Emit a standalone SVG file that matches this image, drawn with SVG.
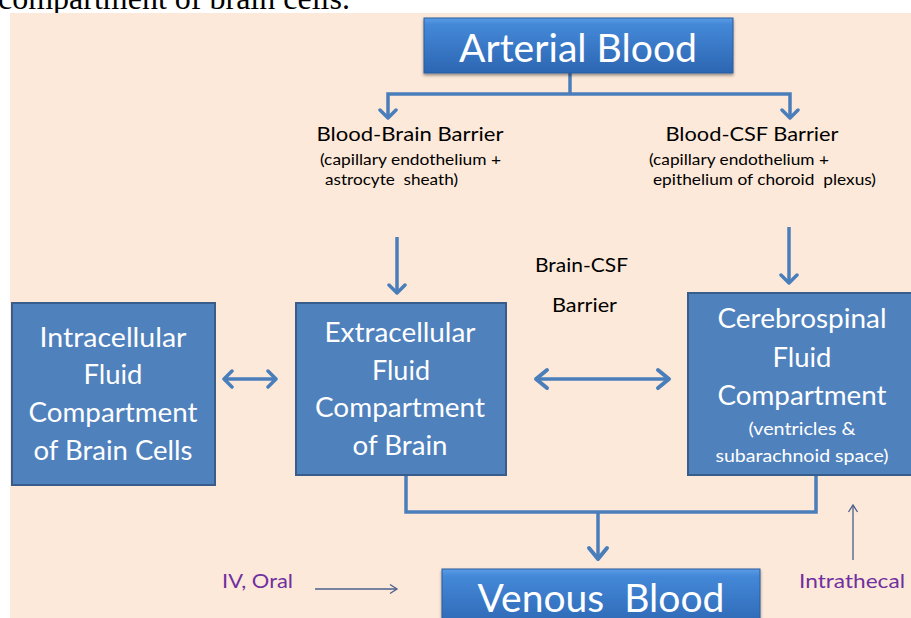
<svg xmlns="http://www.w3.org/2000/svg" width="911" height="618" viewBox="0 0 911 618">
  <style>
    .cap { font-family: "Liberation Serif", serif; font-size: 32px; fill: #000; }
    .box { fill: #4f81bd; stroke: #385d8a; stroke-width: 2; }
    .gbox { fill: url(#blueGrad); stroke: #2c5d9e; stroke-width: 1; filter: url(#shadow); }
    .bt { font-family: "Lato", "Open Sans", sans-serif; font-weight: 400; fill: #fff; text-anchor: middle; }
    .big { font-size: 27px; }
    .huge { font-size: 39px; }
    .small { font-size: 18px; }
    .lbl { font-family: "Lato", "Open Sans", sans-serif; font-weight: 400; fill: #000; font-size: 20px; }
    .sub { font-family: "Lato", "Open Sans", sans-serif; font-weight: 400; fill: #000; font-size: 15px; }
    .pur { font-family: "Lato", "Open Sans", sans-serif; font-weight: 400; fill: #7030a0; font-size: 20px; }
    .conn { fill: none; stroke: #4a7ebb; stroke-width: 3.5; }
    .thin { fill: none; stroke: #4a5f8c; stroke-width: 1.3; }
  </style>
  <defs>
    <linearGradient id="blueGrad" x1="0" y1="0" x2="0" y2="1">
      <stop offset="0" stop-color="#5a9de6"/>
      <stop offset="0.12" stop-color="#4488d8"/>
      <stop offset="1" stop-color="#2c66b2"/>
    </linearGradient>
    <filter id="shadow" x="-5%" y="-10%" width="110%" height="130%">
      <feDropShadow dx="0" dy="2" stdDeviation="1.5" flood-color="#000" flood-opacity="0.4"/>
    </filter>
    <marker id="arr" viewBox="0 0 20 20" refX="17" refY="10" markerWidth="20" markerHeight="20" markerUnits="userSpaceOnUse" orient="auto-start-reverse">
      <path d="M9,2 L17,10 L9,18" fill="none" stroke="#4a7ebb" stroke-width="3.5" stroke-linecap="round" stroke-linejoin="round"/>
    </marker>
    <marker id="arrBig" viewBox="0 0 24 24" refX="21" refY="12" markerWidth="24" markerHeight="24" markerUnits="userSpaceOnUse" orient="auto-start-reverse">
      <path d="M10,3 L21,12 L10,21" fill="none" stroke="#4a7ebb" stroke-width="4" stroke-linecap="round" stroke-linejoin="round"/>
    </marker>
    <marker id="thinArr" viewBox="0 0 12 12" refX="10" refY="6" markerWidth="12" markerHeight="12" markerUnits="userSpaceOnUse" orient="auto-start-reverse">
      <path d="M3,1.5 L10,6 L3,10.5" fill="none" stroke="#4a5f8c" stroke-width="1.3"/>
    </marker>
  </defs>

  <rect x="0" y="0" width="911" height="618" fill="#fff"/>
  <text class="cap" x="-2" y="9">compartment of brain cells.</text>
  <rect x="10" y="13" width="901" height="605" fill="#fde9d9"/>

  <g id="connectors">
    <path class="conn" d="M570,73 V94"/>
    <path class="conn" d="M388,118 V94 H790 V118" marker-start="url(#arr)" marker-end="url(#arr)"/>
    <path class="conn" d="M397,237 V293" marker-end="url(#arr)"/>
    <path class="conn" d="M789,227 V283" marker-end="url(#arr)"/>
    <path class="conn" d="M224,379 H276" marker-start="url(#arr)" marker-end="url(#arr)"/>
    <path class="conn" d="M536,379 H669" marker-start="url(#arrBig)" marker-end="url(#arrBig)"/>
    <path class="conn" d="M406,475 V512 H816 V475"/>
    <path class="conn" d="M598,512 V559" marker-end="url(#arrBig)"/>
    <path class="thin" d="M315,589 H397" marker-end="url(#thinArr)"/>
    <path class="thin" d="M853,560 V505" marker-end="url(#thinArr)"/>
  </g>

  <g id="arterial">
    <rect class="gbox" x="424" y="18" width="309" height="55"/>
    <text class="bt huge" x="578" y="62" textLength="238" lengthAdjust="spacingAndGlyphs">Arterial Blood</text>
  </g>

  <g id="bbb">
    <text class="lbl" x="410" y="141" text-anchor="middle" textLength="187" lengthAdjust="spacingAndGlyphs">Blood-Brain Barrier</text>
    <text class="sub" x="320" y="165" textLength="181" lengthAdjust="spacingAndGlyphs">(capillary endothelium +</text>
    <text class="sub" x="325" y="185" textLength="133" lengthAdjust="spacingAndGlyphs" xml:space="preserve">astrocyte  sheath)</text>
  </g>

  <g id="bcsf">
    <text class="lbl" x="752" y="141" text-anchor="middle" textLength="173" lengthAdjust="spacingAndGlyphs">Blood-CSF Barrier</text>
    <text class="sub" x="649" y="165" textLength="180" lengthAdjust="spacingAndGlyphs">(capillary endothelium +</text>
    <text class="sub" x="653" y="185" textLength="223" lengthAdjust="spacingAndGlyphs" xml:space="preserve">epithelium of choroid  plexus)</text>
  </g>

  <g id="braincsf">
    <text class="lbl" x="535" y="272" textLength="93" lengthAdjust="spacingAndGlyphs">Brain-CSF</text>
    <text class="lbl" x="552" y="312" textLength="65" lengthAdjust="spacingAndGlyphs">Barrier</text>
  </g>

  <g id="intracellular">
    <rect class="box" x="12" y="303" width="203" height="182"/>
    <text class="bt big" x="113" y="347" textLength="147" lengthAdjust="spacingAndGlyphs">Intracellular</text>
    <text class="bt big" x="113" y="384" textLength="59" lengthAdjust="spacingAndGlyphs">Fluid</text>
    <text class="bt big" x="113" y="422" textLength="169" lengthAdjust="spacingAndGlyphs">Compartment</text>
    <text class="bt big" x="113" y="460" textLength="159" lengthAdjust="spacingAndGlyphs">of Brain Cells</text>
  </g>

  <g id="extracellular">
    <rect class="box" x="296" y="303" width="210" height="172"/>
    <text class="bt big" x="400" y="342" textLength="151" lengthAdjust="spacingAndGlyphs">Extracellular</text>
    <text class="bt big" x="401" y="380" textLength="58" lengthAdjust="spacingAndGlyphs">Fluid</text>
    <text class="bt big" x="400" y="417" textLength="170" lengthAdjust="spacingAndGlyphs">Compartment</text>
    <text class="bt big" x="400" y="455" textLength="95" lengthAdjust="spacingAndGlyphs">of Brain</text>
  </g>

  <g id="csf">
    <rect class="box" x="688" y="293" width="224" height="182"/>
    <text class="bt big" x="802" y="328" textLength="169" lengthAdjust="spacingAndGlyphs">Cerebrospinal</text>
    <text class="bt big" x="802" y="367" textLength="59" lengthAdjust="spacingAndGlyphs">Fluid</text>
    <text class="bt big" x="802" y="405" textLength="169" lengthAdjust="spacingAndGlyphs">Compartment</text>
    <text class="bt small" x="802" y="435" textLength="107" lengthAdjust="spacingAndGlyphs">(ventricles &amp;</text>
    <text class="bt small" x="802" y="462" textLength="173" lengthAdjust="spacingAndGlyphs">subarachnoid space)</text>
  </g>

  <g id="venous">
    <rect class="gbox" x="442" y="569" width="318" height="60"/>
    <text class="bt huge" x="601" y="612" textLength="247" lengthAdjust="spacingAndGlyphs" xml:space="preserve">Venous  Blood</text>
  </g>

  <g id="routes">
    <text class="pur" x="222" y="588" textLength="71" lengthAdjust="spacingAndGlyphs">IV, Oral</text>
    <text class="pur" x="799" y="588" textLength="106" lengthAdjust="spacingAndGlyphs">Intrathecal</text>
  </g>
</svg>
